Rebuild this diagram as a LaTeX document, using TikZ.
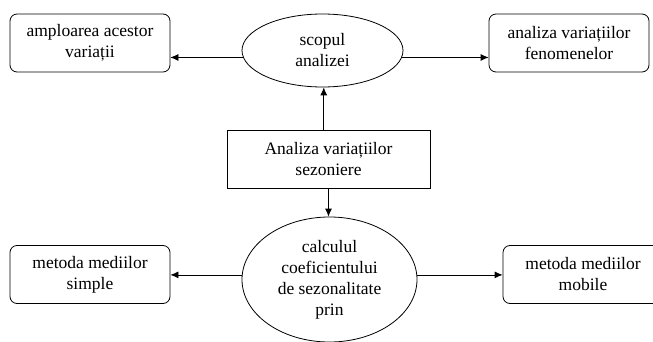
\documentclass[tikz,border=0pt]{standalone}
\usepackage{fontspec}
\setmainfont{Liberation Serif}
\usetikzlibrary{arrows.meta,shapes.geometric}
\tikzset{
  txt/.style={font=\fontsize{17.5}{21}\selectfont, align=center, inner sep=0pt},
  rbox/.style={txt, draw, line width=0.8pt, rounded corners=7pt, minimum width=160pt, minimum height=58pt},
  sbox/.style={txt, draw, line width=0.8pt, minimum width=203pt, minimum height=58pt},
  ell/.style={txt, draw, line width=0.8pt, ellipse},
  arr/.style={line width=0.8pt, -{Latex[length=8pt,width=7pt]}}
}
\begin{document}
\begin{tikzpicture}[x=1pt,y=-1pt]
\useasboundingbox (0,0) rectangle (653,342);
\node[ell, minimum width=161pt, minimum height=73pt] (e1) at (322.5,50.5) {scopul\\analizei};
\node[rbox] (b1) at (90,43) {amploarea acestor\\variații};
\node[rbox] (b2) at (569,43) {analiza variațiilor\\fenomenelor};
\node[sbox] (m) at (328.5,159) {Analiza variațiilor\\sezoniere};
\node[ell, minimum width=175pt, minimum height=125pt] (e2) at (329.5,279.5) {calculul\\coeficientului\\de sezonalitate\\prin};
\node[rbox] (b3) at (90,274.5) {metoda mediilor\\simple};
\node[rbox] (b4) at (583,274.5) {metoda mediilor\\mobile};
\draw[arr] (e1.185) -- (b1.east |- e1.185);
\draw[arr] (e1.355) -- (b2.west |- e1.355);
\draw[arr] (m.north -| e1.272) -- (e1.272);
\draw[arr] (m.south) -- (e2.north -| m.south);
\draw[arr] (e2.177) -- (b3.east |- e2.177);
\draw[arr] (e2.3) -- (b4.west |- e2.3);
\end{tikzpicture}
\end{document}
